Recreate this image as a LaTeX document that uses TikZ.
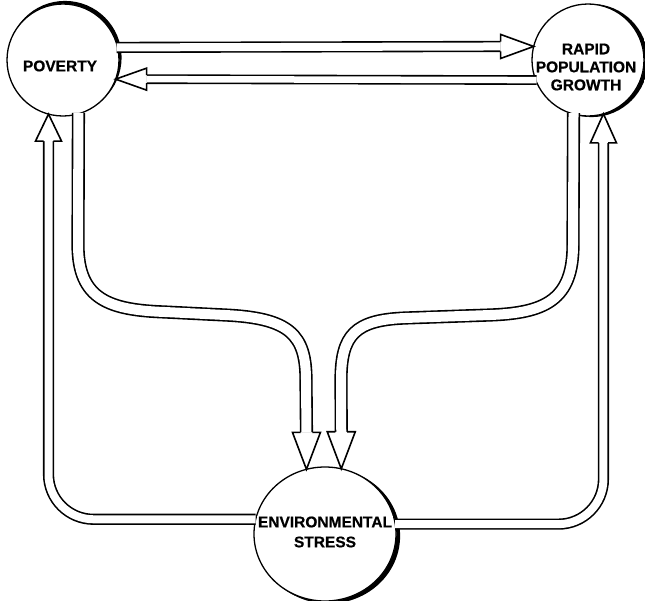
\documentclass[tikz,border=0pt]{standalone}
\usepackage{fontspec}
\setmainfont{Liberation Sans}[BoldFeatures={FakeBold=0.6}]
\usetikzlibrary{calc,shapes.geometric}
\setlength{\fboxsep}{0.6pt}
\tikzset{
  bubble/.style={circle, draw, line width=1.3pt, minimum size=112pt, inner sep=0pt, outer sep=0pt},
  envbubble/.style={ellipse, draw, line width=1.3pt, minimum width=142pt, minimum height=134pt, inner sep=0pt, outer sep=0pt},
  lbl/.style={font=\bfseries\fontsize{15.5}{18}\selectfont, align=center, inner sep=0pt},
  envlbl/.style={font=\bfseries\fontsize{15.5}{20}\selectfont, align=center, inner sep=0pt},
  pipe/.style={draw=black, double=white, double distance=8pt, line width=1.6pt},
  widepipe/.style={pipe, double distance=10pt},
  thinpipe/.style={pipe, double distance=6.5pt},
  headline/.style={fill=white, draw=black, line width=1.6pt, line join=miter, miter limit=10},
  pics/hhead/.style n args={3}{code={
    \filldraw[headline] (-#1,#3) -- (-#1,#2) -- (0,0) -- (-#1,-#2) -- (-#1,-#3);
  }},
}
\begin{document}
\begin{tikzpicture}[x=1pt,y=-1pt]
\useasboundingbox (0,0) rectangle (645,600);

% circles
\node[bubble] (pov) at (63,60) {};
\node[bubble] (rpg) at (588,60) {};
\node[envbubble] (env) at (325,534) {};

% heavy shading on the circles
\begin{scope}
  \clip ($(pov.center)+(2,-2.5)$) circle (56.6pt);
  \fill[even odd rule] (pov.center) circle (64pt) (pov.center) circle (56.3pt);
\end{scope}
\begin{scope}
  \clip ($(rpg.center)+(3.5,0.5)$) circle (56.6pt);
  \fill[even odd rule] (rpg.center) circle (64pt) (rpg.center) circle (56.3pt);
\end{scope}
\begin{scope}
  \clip ($(env.center)+(3.5,2)$) ellipse [x radius=71.6pt, y radius=67.6pt];
  \fill[even odd rule] (env.center) ellipse [x radius=79pt, y radius=75pt]
                       (env.center) ellipse [x radius=71.3pt, y radius=67.3pt];
\end{scope}

% Poverty -> Rapid population growth
\draw[pipe] ($(pov.13.4)+(-1,0)$) -- ($(rpg.166.6)+(-33,0)$);
\pic at (rpg.166.6) {hhead={33}{12}{4.8}};

% Rapid population growth -> Poverty
\draw[thinpipe] ($(rpg.-159.1)+(1,0)$) -- ($(pov.-20.9)+(31,0)$);
\pic[rotate=180] at (pov.-20.9) {hhead={31}{11}{4.05}};

% Environmental stress -> Poverty (outer left)
\draw[pipe, rounded corners=45pt] (env.168.6) -| ($(pov.-105.5)+(0,27)$);
\pic[rotate=90] at (pov.-105.5) {hhead={27}{13}{4.8}};

% Environmental stress -> Rapid population growth (outer right)
\draw[pipe, rounded corners=45pt] (env.8.1) -| ($(rpg.-74.5)+(0,29)$);
\pic[rotate=90] at (rpg.-74.5) {hhead={29}{13}{4.8}};

% Poverty -> Environmental stress (inner left)
\draw[widepipe] ($(pov.-74.5)+(0,-1)$) -- (78,245)
  .. controls (78,300) and (110,310) .. (165,312) -- (225,315)
  .. controls (290,318) and (306,335) .. (306,380)
  -- ($(env.106.4)+(0,-37)$);
\pic[rotate=-90] at (env.106.4) {hhead={37}{14}{5.8}};

% Rapid population growth -> Environmental stress (inner right)
\draw[widepipe] ($(rpg.-105.5)+(0,-1)$) -- (573,245)
  .. controls (573,300) and (545,313) .. (490,315) -- (405,318)
  .. controls (355,320) and (341,335) .. (341,380)
  -- ($(env.76.2)+(0,-37)$);
\pic[rotate=-90] at (env.76.2) {hhead={37}{14}{5.8}};

% labels
\node[lbl] (povtext) at (60,66) {POVERTY};
\node[lbl] (rpgtext) at (586,67) {\colorbox{white}{RAPID}\\\colorbox{white}{POPULATION}\\\colorbox{white}{GROWTH}};
\node[envlbl] (envtext) at (325,532) {\colorbox{white}{ENVIRONMENTAL}\\\colorbox{white}{STRESS}};
\end{tikzpicture}
\end{document}
